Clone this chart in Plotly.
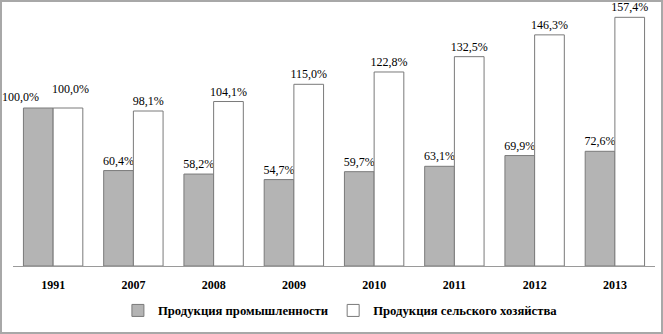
import plotly.graph_objects as go

years = ["1991", "2007", "2008", "2009", "2010", "2011", "2012", "2013"]
industry = [100.0, 60.4, 58.2, 54.7, 59.7, 63.1, 69.9, 72.6]
agriculture = [100.0, 98.1, 104.1, 115.0, 122.8, 132.5, 146.3, 157.4]
series_names = ["Продукция промышленности", "Продукция сельского хозяйства"]

def fmt(v):
    return f"{v:.1f}%".replace(".", ",")

FONT = "Liberation Serif"
LBL = dict(family=FONT, size=12, color="black")

# first-category labels are placed as annotations (staggered, as in the original)
ind_text = [""] + [fmt(v) for v in industry[1:]]
agr_text = [""] + [fmt(v) for v in agriculture[1:]]

fig = go.Figure()
fig.add_trace(go.Bar(
    x=years, y=industry, name=series_names[0],
    marker=dict(color="#b4b4b4", line=dict(color="#7a7a7a", width=1)),
    text=ind_text, textposition="outside", constraintext="none",
    textfont=LBL, cliponaxis=False,
))
fig.add_trace(go.Bar(
    x=years, y=agriculture, name=series_names[1],
    marker=dict(color="white", line=dict(color="#7a7a7a", width=1)),
    text=agr_text, textposition="outside", constraintext="none",
    textfont=LBL, cliponaxis=False,
))

W, H = 663, 334
L, R, T, B = 13, 8, 8, 68
pw, ph = W - L - R, H - T - B

# bar half-offset in pixels: category width * (1-bargap) / 4
bargap = 0.26
cat_px = pw / len(years)
half = cat_px * (1 - bargap) / 4
first_idx = years.index("1991")  # category index on the category axis

annotations = [
    dict(x=first_idx, y=industry[first_idx], xref="x", yref="y",
         text=fmt(industry[first_idx]),
         showarrow=False, xanchor="center", yanchor="bottom",
         xshift=-half - 18, yshift=2, font=LBL),
    dict(x=first_idx, y=agriculture[first_idx], xref="x", yref="y",
         text=fmt(agriculture[first_idx]),
         showarrow=False, xanchor="center", yanchor="bottom",
         xshift=half + 3, yshift=10, font=LBL),
]

fig.update_layout(
    width=W, height=H,
    margin=dict(l=L, r=R, t=T, b=B),
    paper_bgcolor="white", plot_bgcolor="white",
    barmode="group", bargap=bargap, bargroupgap=0,
    font=dict(family=FONT, size=12, color="black"),
    xaxis=dict(
        type="category", range=[-0.5, len(years) - 0.5], autorange=False,
        showline=True, linecolor="#9a9a9a", linewidth=1,
        ticks="", showgrid=False, ticklabelstandoff=8,
        tickfont=dict(family=FONT, size=12, color="black", weight="bold"),
    ),
    yaxis=dict(range=[0, 163.3], visible=False, showgrid=False),
    legend=dict(
        orientation="h", x=0.51, xanchor="center", y=-0.115, yanchor="top",
        font=dict(family=FONT, size=12.7, color="black", weight="bold"),
        itemwidth=30, tracegroupgap=0,
    ),
    showlegend=True,
    annotations=annotations,
    shapes=[dict(
        type="rect", xref="paper", yref="paper",
        x0=-(L - 1) / pw, x1=1 + (R - 1) / pw,
        y0=-(B - 1) / ph, y1=1 + (T - 1) / ph,
        line=dict(color="#a8a8a8", width=2), fillcolor="rgba(0,0,0,0)",
    )],
)

fig.write_html("out.html", config={"displayModeBar": False},
               post_script="document.body.style.margin='0';")
